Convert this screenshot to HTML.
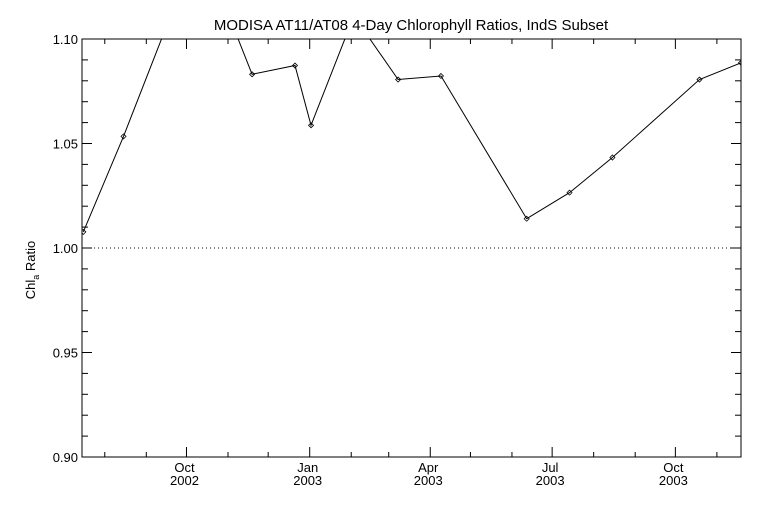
<!DOCTYPE html>
<html><head><meta charset="utf-8"><style>
html,body{margin:0;padding:0;background:#fff;}
svg{display:block;font-family:"Liberation Sans",sans-serif;}
</style></head><body>
<svg id="chart" width="768" height="512" viewBox="0 0 768 512" xmlns="http://www.w3.org/2000/svg">
<rect x="0" y="0" width="768" height="512" fill="#fff"/>
<text x="411" y="30" font-size="15" text-anchor="middle" fill="#000">MODISA AT11/AT08 4-Day Chlorophyll Ratios, IndS Subset</text>
<text transform="translate(35,270) rotate(-90)" font-size="13" text-anchor="middle" fill="#000">Chl<tspan font-size="9" dy="4">a</tspan><tspan dy="-4"> Ratio</tspan></text>
<defs><clipPath id="plotclip"><rect x="82" y="39" width="659" height="418"/></clipPath></defs>
<g id="axes"></g>
<g id="series" clip-path="url(#plotclip)"></g>
</svg>
<script>
const dates = ["2002-07-16","2002-08-15","2002-09-16","2002-10-18","2002-11-19","2002-12-21","2003-01-02","2003-02-03","2003-03-08","2003-04-09","2003-06-12","2003-07-14","2003-08-15","2003-10-19","2003-11-19"];
const ratios = [1.0077,1.0534,1.106,1.135,1.0831,1.0873,1.0587,1.111,1.0806,1.0823,1.014,1.0265,1.0433,1.0806,1.0886];
const yTicks = [0.90,0.95,1.00,1.05,1.10];
const yTickLabels = ["0.90","0.95","1.00","1.05","1.10"];
const xMajorDates = ["2002-10-01","2003-01-01","2003-04-01","2003-07-01","2003-10-01"];
const xMajorMonth = ["Oct","Jan","Apr","Jul","Oct"];
const xMajorYear = ["2002","2003","2003","2003","2003"];
const xMinorDates = ["2002-08-01","2002-09-01","2002-11-01","2002-12-01","2003-02-01","2003-03-01","2003-05-01","2003-06-01","2003-08-01","2003-09-01","2003-11-01"];
const xDomain = ["2002-07-15","2003-11-19"];
const yDomain = [0.90,1.10];

const L=82,R=741,T=39,B=457;
const NS="http://www.w3.org/2000/svg";
function t(d){return Date.parse(d+"T00:00:00Z");}
function xs(d){return L+(t(d)-t(xDomain[0]))/(t(xDomain[1])-t(xDomain[0]))*(R-L);}
function ys(v){return B-(v-yDomain[0])/(yDomain[1]-yDomain[0])*(B-T);}
function mk(tag,attrs,parent){const e=document.createElementNS(NS,tag);for(const k in attrs)e.setAttribute(k,attrs[k]);parent.appendChild(e);return e;}
const axes=document.getElementById('axes'), series=document.getElementById('series');

const frame=mk('rect',{x:L,y:T,width:R-L,height:B-T,fill:'none',stroke:'#000','stroke-width':1},axes);



const ref=mk('line',{x1:L,x2:R,y1:ys(1.0),y2:ys(1.0),stroke:'#000','stroke-width':1,'stroke-dasharray':'1,3'},axes);



// y ticks: minor every 0.01
for(let i=0;i<=20;i++){
  const v=yDomain[0]+i*0.01, y=ys(v), major=(i%5===0), len=major?10:6;
  const a=mk('line',{x1:L,x2:L+len,y1:y,y2:y,stroke:'#000'},axes);
  
  
  const b=mk('line',{x1:R-len,x2:R,y1:y,y2:y,stroke:'#000'},axes);
  
  
}
yTicks.forEach((v,i)=>{
  const tx=mk('text',{x:L-4,y:ys(v)+5,'font-size':13,'text-anchor':'end',fill:'#000'},axes);
  tx.textContent=yTickLabels[i];
  
  
});
xMajorDates.forEach((d,i)=>{
  const x=xs(d);
  const a=mk('line',{x1:x,x2:x,y1:B,y2:B-10,stroke:'#000'},axes);
  
  
  const b=mk('line',{x1:x,x2:x,y1:T,y2:T+10,stroke:'#000'},axes);
  
  
  const m=mk('text',{x:x-2,y:B+15,'font-size':13,'text-anchor':'middle',fill:'#000'},axes);
  m.textContent=xMajorMonth[i];
  
  
  const yr=mk('text',{x:x-2,y:B+28,'font-size':13,'text-anchor':'middle',fill:'#000'},axes);
  yr.textContent=xMajorYear[i];
  
  
});
xMinorDates.forEach(d=>{
  const x=xs(d);
  const a=mk('line',{x1:x,x2:x,y1:B,y2:B-5,stroke:'#000'},axes);
  
  
  const b=mk('line',{x1:x,x2:x,y1:T,y2:T+5,stroke:'#000'},axes);
  
  
});
const pts=dates.map((d,i)=>xs(d).toFixed(1)+','+ys(ratios[i]).toFixed(1)).join(' ');
const pl=mk('polyline',{points:pts,fill:'none',stroke:'#000','stroke-width':1},series);


dates.forEach((d,i)=>{
  const x=xs(d),y=ys(ratios[i]);
  const p=mk('polygon',{points:`${x},${y-2.5} ${x+2.5},${y} ${x},${y+2.5} ${x-2.5},${y}`,fill:'none',stroke:'#000','stroke-width':0.8},series);
  
  
});
</script>
</body></html>
